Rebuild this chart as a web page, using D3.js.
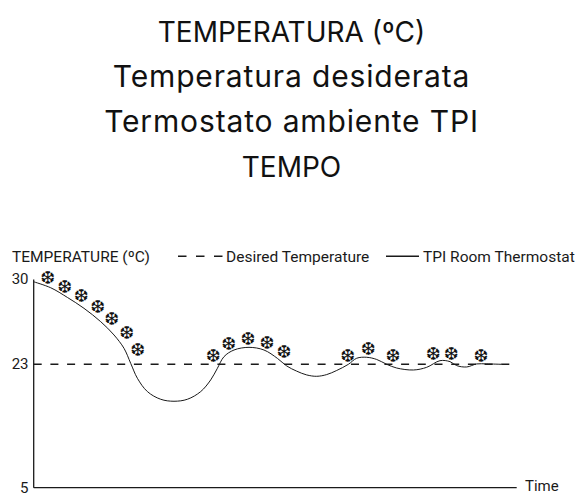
<!DOCTYPE html>
<html><head><meta charset="utf-8">
<style>html,body{margin:0;background:#fff}svg{display:block}</style>
<script src="https://cdn.jsdelivr.net/npm/d3@7"></script></head>
<body><svg id="c" width="576" height="495"></svg>
<script>
const titleLines = ["TEMPERATURA (ºC)","Temperatura desiderata","Termostato ambiente TPI","TEMPO"];
const yTicks = [30,23,5];
const setpoint = 23;
const timeDomain = [0,483];
const curveTime = [0,17,33.7,50.3,67,80.3,90.3,97,103.7,113.7,127,140.3,153.7,167,177,183.7,190.3,200.3,215.3,230.3,243.7,253,263,273,283,293,303,314.7,323,333,343,353,363,379.7,393,406.3,416.3,423,433,443,453,468];
const curveTemp = [29.81,29.32,28.52,27.62,26.52,25.42,24.32,23.08,20.96,19.02,17.9,17.61,17.9,19.02,20.72,22.42,23.63,24.18,24.4,24.18,23.49,22.76,22.0,21.45,21.25,21.5,22.1,23,23.5,23.58,23.4,23,22.46,22.17,22.56,23.3,23.22,22.81,22.61,23.03,23.03,23];
const snowTime = [14,31,47.7,64,78,93,104,179.7,195,214.3,233.3,250.3,314,334.7,359.3,399.7,417.7,447.3];
const snowTemp = [30.14,29.43,28.66,27.78,26.82,25.64,24.26,23.74,24.7,25.14,24.84,24.02,23.69,24.32,23.71,23.88,23.88,23.71];
const legendTitle = "TEMPERATURE (ºC)", legendDash = "Desired Temperature", legendSolid = "TPI Room Thermostat", xLabel = "Time";

const svg = d3.select("#c");
const x = d3.scaleLinear().domain(timeDomain).range([33.7,516.7]);
const y = d3.scaleLinear().domain([5,23,30]).range([487.7,364.3,279.5]);
const ink = "#1a1a1a";

const isCaps = s => s === s.toUpperCase();
svg.selectAll("text.title").data(titleLines).join("text").attr("class","title")
  .attr("x",291.5).attr("y",(d,i)=>42+i*45).attr("text-anchor","middle")
  .attr("font-family","Inter").attr("font-size",d=>isCaps(d)?28:30).attr("letter-spacing",d=>isCaps(d)?0:0.85).attr("fill","#111").text(d=>d);

const lab = (s,px,py,size)=>svg.append("text").attr("x",px).attr("y",py)
  .attr("font-family","Roboto").attr("font-size",size||15.5).attr("fill",ink).text(s);
lab(legendTitle,12,261.7);
lab(legendDash,226,261.7);
lab(legendSolid,423,261.7);
svg.append("line").attr("x1",178).attr("x2",222.5).attr("y1",256.3).attr("y2",256.3).attr("stroke",ink).attr("stroke-width",1.5).attr("stroke-dasharray","8.5 9.5");
svg.append("line").attr("x1",386).attr("x2",419).attr("y1",256.3).attr("y2",256.3).attr("stroke",ink).attr("stroke-width",1.6);

svg.append("g").selectAll("text").data(yTicks).join("text")
  .attr("x",28.5).attr("y",d=>y(d)+4.8).attr("text-anchor","end").attr("font-family","Roboto").attr("font-size",15).attr("fill",ink).text(d=>d);

svg.append("line").attr("x1",x(0)).attr("x2",x(0)).attr("y1",y(30)).attr("y2",y(5)).attr("stroke",ink).attr("stroke-width",1.3);
svg.append("line").attr("x1",x(0)).attr("x2",x(483)).attr("y1",y(5)).attr("y2",y(5)).attr("stroke",ink).attr("stroke-width",1.3);
lab(xLabel,525,491,15);

svg.append("line").attr("x1",x(0)).attr("x2",x(478)).attr("y1",y(setpoint)).attr("y2",y(setpoint)).attr("stroke",ink).attr("stroke-width",1.6).attr("stroke-dasharray","8 8.7");

const line = d3.line().x(i=>x(curveTime[i])).y(i=>y(curveTemp[i])).curve(d3.curveCatmullRom);
svg.append("path").attr("d",line(d3.range(curveTime.length))).attr("fill","none").attr("stroke",ink).attr("stroke-width",1);

svg.append("g").selectAll("text").data(snowTime).join("text")
  .attr("x",d=>x(d)).attr("y",(d,i)=>y(snowTemp[i])+6.5).attr("text-anchor","middle")
  .attr("font-family","DejaVu Sans").attr("font-size",18).attr("fill","#111").text("❆");
</script></body></html>
